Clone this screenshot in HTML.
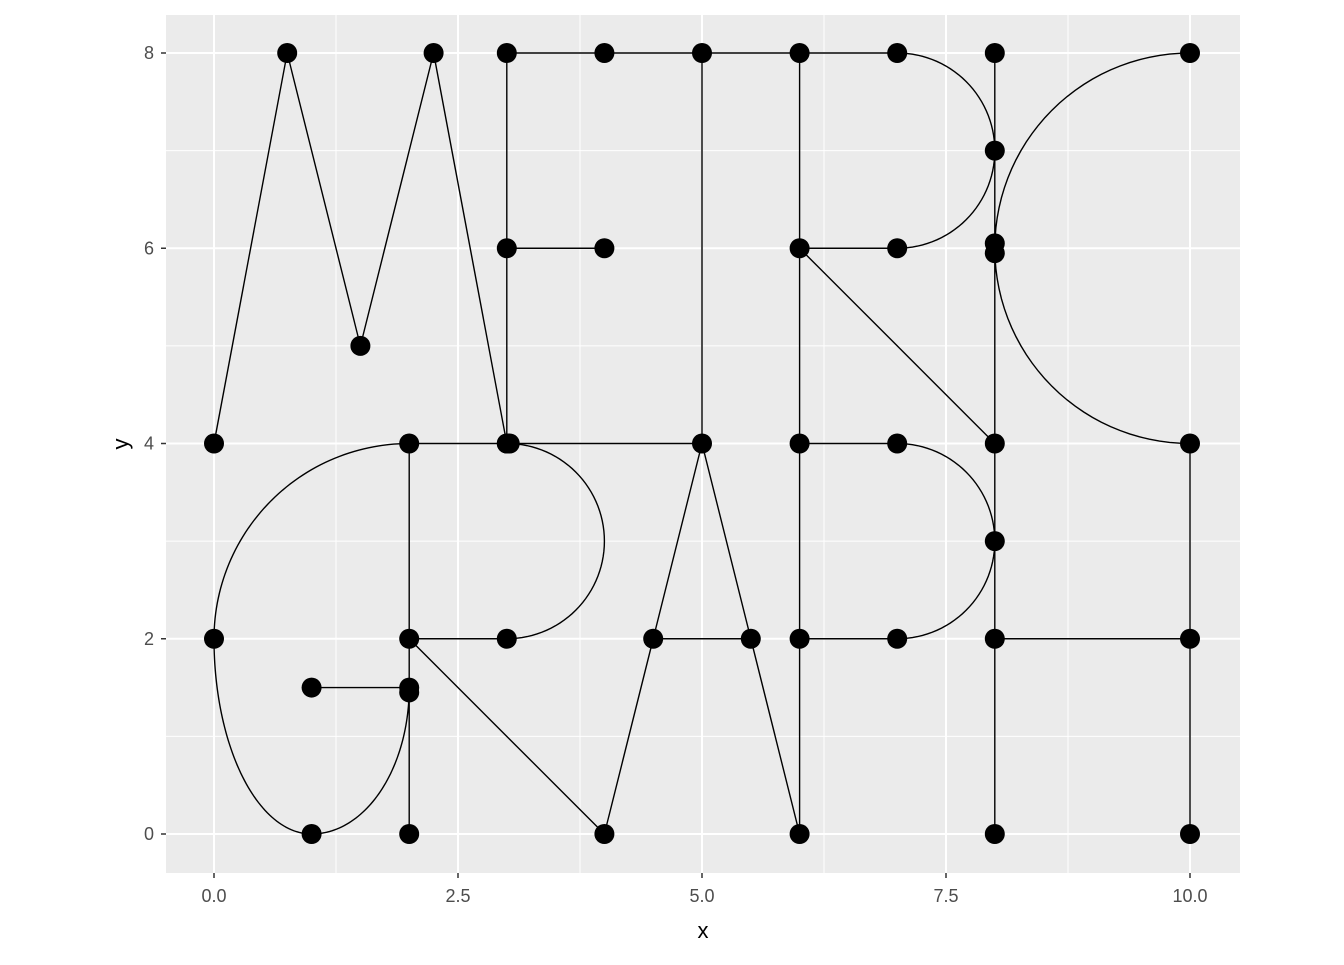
<!DOCTYPE html>
<html><head><meta charset="utf-8"><style>
body{margin:0;background:#fff;font-family:"Liberation Sans",sans-serif}
</style></head><body>
<svg id="chart" width="1344" height="960" xmlns="http://www.w3.org/2000/svg">
<rect x="166" y="15" width="1074" height="858" fill="#ebebeb"/>
<g id="grid"></g><g id="marks"></g><g id="axes"></g>
<text x="703" y="938" font-size="22" text-anchor="middle">x</text>
<text transform="translate(128,444) rotate(-90)" font-size="22" text-anchor="middle">y</text>
</svg>
<script>
const xTicks=[0,2.5,5,7.5,10];
const xTickLabels=["0.0","2.5","5.0","7.5","10.0"];
const yTicks=[0,2,4,6,8];
const yTickLabels=["0","2","4","6","8"];
const pointsX=[0,0.75,1.5,2.25,3,3,4,3,4,5,5,6,7,7,6,8,8,8,8,10,10,10,10,2,0,1,2,1,2,2,2,3,3,4,4.5,5.5,6,6,6,7,7,8,8,8,3.03,8];
const pointsY=[4,8,5,8,4,8,8,6,6,8,4,8,8,6,6,8,7,6.05,5.95,8,4,2,0,4,2,0,1.5,1.5,1.45,0,2,2,4,0,2,2,4,2,0,4,2,4,3,2,4,0];
const segFrom=[[0,4],[0.75,8],[1.5,5],[2.25,8],[3,8],[3,8],[3,6],[5,8],[6,8],[6,6],[6,6],[8,8],[10,4],[10,2],[1,1.5],[2,4],[2,4],[2,2],[2,2],[4,0],[5,4],[4.5,2],[6,4],[6,2]];
const segTo=[[0.75,8],[1.5,5],[2.25,8],[3,4],[3,4],[7,8],[4,6],[5,4],[6,0],[7,6],[8,4],[8,0],[10,0],[8,2],[2,1.5],[2,0],[5,4],[3,2],[4,0],[5,4],[6,0],[5.5,2],[7,4],[7,2]];
const arcCx=[7,10,2,1,1,3,7];
const arcCy=[7,6,2,2,1.5,3,3];
const arcRx=[1,2,2,1,1,1,1];
const arcRy=[1,2,2,2,1.5,1,1];
const arcA0=[90,90,90,180,270,90,90];
const arcA1=[-90,270,180,270,360,-90,-90];
const X0=166,X1=1240,Y0=15,Y1=873;
const sx=v=>214+v*97.6, sy=v=>834-v*97.625;
const NS="http://www.w3.org/2000/svg";
function mk(tag,attrs,parent){const e=document.createElementNS(NS,tag);for(const k in attrs)e.setAttribute(k,attrs[k]);parent.appendChild(e);return e;}
const grid=document.getElementById('grid'),marks=document.getElementById('marks'),axes=document.getElementById('axes');
for(let i=0;i<xTicks.length-1;i++){const v=(xTicks[i]+xTicks[i+1])/2;
 const l=mk('line',{x1:sx(v),x2:sx(v),y1:Y0,y2:Y1,stroke:'#fff','stroke-width':1},grid);
 
 }
for(let i=0;i<yTicks.length-1;i++){const v=(yTicks[i]+yTicks[i+1])/2;
 const l=mk('line',{x1:X0,x2:X1,y1:sy(v),y2:sy(v),stroke:'#fff','stroke-width':1},grid);
 
 }
xTicks.forEach((v,i)=>{
 const l=mk('line',{x1:sx(v),x2:sx(v),y1:Y0,y2:Y1,stroke:'#fff','stroke-width':2},grid);
 
 
 const t=mk('line',{x1:sx(v),x2:sx(v),y1:Y1,y2:Y1+5,stroke:'#333','stroke-width':1.5},axes);
 
 
 const tx=mk('text',{x:sx(v),y:902,'font-size':18,fill:'#4d4d4d','text-anchor':'middle'},axes);
 tx.textContent=xTickLabels[i];
 
 });
yTicks.forEach((v,i)=>{
 const l=mk('line',{x1:X0,x2:X1,y1:sy(v),y2:sy(v),stroke:'#fff','stroke-width':2},grid);
 
 
 const t=mk('line',{x1:X0-5,x2:X0,y1:sy(v),y2:sy(v),stroke:'#333','stroke-width':1.5},axes);
 
 
 const tx=mk('text',{x:X0-12,y:sy(v)+6,'font-size':18,fill:'#4d4d4d','text-anchor':'end'},axes);
 tx.textContent=yTickLabels[i];
 
 });
segFrom.forEach((a,i)=>{const b=segTo[i];
 const l=mk('line',{x1:sx(a[0]),y1:sy(a[1]),x2:sx(b[0]),y2:sy(b[1]),stroke:'#000','stroke-width':1.4},marks);
 
 });
arcCx.forEach((cx,i)=>{let d='';const n=60;
 for(let k=0;k<=n;k++){const a=(arcA0[i]+(arcA1[i]-arcA0[i])*k/n)*Math.PI/180;
  const px=sx(cx+arcRx[i]*Math.cos(a)),py=sy(arcCy[i]+arcRy[i]*Math.sin(a));
  d+=(k?'L':'M')+px.toFixed(2)+' '+py.toFixed(2);}
 const p=mk('path',{d:d,fill:'none',stroke:'#000','stroke-width':1.4},marks);
 
 });
pointsX.forEach((x,i)=>{
 const c=mk('circle',{cx:sx(x),cy:sy(pointsY[i]),r:10,fill:'#000'},marks);
 
 });
</script>
</body></html>
